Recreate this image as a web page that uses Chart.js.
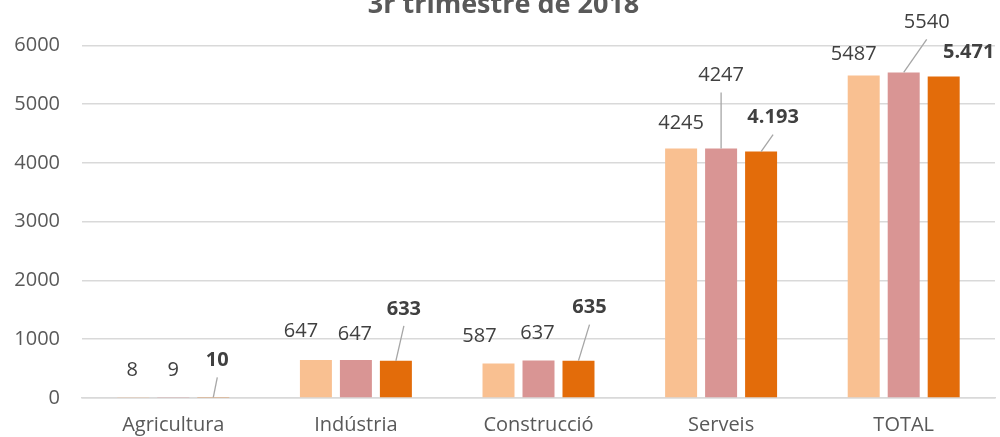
<!DOCTYPE html>
<html>
<head>
<meta charset="utf-8">
<script src="https://cdn.jsdelivr.net/npm/chart.js@4.4.1/dist/chart.umd.min.js"></script>
<style>
  html, body { margin: 0; padding: 0; background: #fff; overflow: hidden; }
  #wrap { position: relative; width: 1000px; height: 448px; margin-top: -11px; }
</style>
</head>
<body>
<div id="wrap"><canvas id="chart"></canvas></div>
<script>
// categories and values
const categories = ['Agricultura', 'Indústria', 'Construcció', 'Serveis', 'TOTAL'];
const serieA = [8, 647, 587, 4245, 5487];
const serieB = [9, 647, 637, 4247, 5540];
const serieC = [10, 633, 635, 4193, 5471];
const yTicks = [0, 1000, 2000, 3000, 4000, 5000, 6000];

// label offset from the bar top (dx, dy), third item = draw a leader line
const labelShift = [
    [[-1, -27], [-15, -29], [-19, -27], [0, -25], [-10, -21]],
    [[0, -27], [-1, -26], [-1, -27], [0, -73, 1], [23, -50, 1]],
    [[4, -37, 1], [8, -52, 1], [11, -53, 1], [12, -34, 1], [25, -24]]
];

const fmtBold = v => v >= 1000 ? v.toLocaleString('de-DE') : String(v);

const labelPlugin = {
    id: 'valueLabels',
    afterDatasetsDraw(chart) {
        const ctx = chart.ctx;
        ctx.save();
        chart.data.datasets.forEach((ds, i) => {
            const meta = chart.getDatasetMeta(i);
            meta.data.forEach((bar, j) => {
                const s = labelShift[i][j];
                const x = bar.x + s[0];
                const y = bar.y + s[1];
                const bold = i === 2;
                const txt = bold ? fmtBold(ds.data[j]) : String(ds.data[j]);
                ctx.font = (bold ? 'bold ' : '') + '20px "Open Sans", sans-serif';
                ctx.fillStyle = '#404040';
                ctx.textAlign = 'center';
                ctx.textBaseline = 'middle';
                ctx.fillText(txt, x, y);
                if (s[2]) {
                    ctx.strokeStyle = '#a6a6a6';
                    ctx.lineWidth = 1.3;
                    ctx.beginPath();
                    ctx.moveTo(x, y + 17);
                    ctx.lineTo(bar.x, bar.y);
                    ctx.stroke();
                }
            });
        });
        ctx.restore();
    }
};

new Chart(document.getElementById('chart'), {
    type: 'bar',
    data: {
        labels: categories,
        datasets: [
            { label: '1', data: serieA, backgroundColor: '#F9C091' },
            { label: '2', data: serieB, backgroundColor: '#D99594' },
            { label: '3', data: serieC, backgroundColor: '#E36C0A' }
        ]
    },
    options: {
        responsive: true,
        maintainAspectRatio: false,
        animation: false,
        layout: { padding: { left: 12, right: 5, bottom: 0 } },
        datasets: {
            bar: { barPercentage: 0.8, categoryPercentage: 0.657 }
        },
        plugins: {
            legend: { display: false },
            tooltip: { enabled: false },
            title: {
                display: true,
                text: '3r trimestre de 2018',
                color: '#595959',
                font: { family: '"Open Sans", sans-serif', size: 27, weight: 'bold' },
                padding: { top: 0, bottom: 24 }
            }
        },
        scales: {
            x: {
                grid: { display: false, drawTicks: false },
                border: { color: '#d9d9d9', width: 1.5 },
                ticks: {
                    color: '#595959',
                    font: { family: '"Open Sans", sans-serif', size: 20 },
                    padding: 15
                },
                afterFit: axis => { axis.height = 39; }
            },
            y: {
                min: 0,
                max: 6000,
                afterBuildTicks: axis => { axis.ticks = yTicks.map(v => ({ value: v })); },
                grid: { color: '#d9d9d9', lineWidth: 1.5, drawTicks: false },
                border: { display: false },
                ticks: {
                    color: '#595959',
                    font: { family: '"Open Sans", sans-serif', size: 20 },
                    padding: 22,
                    callback: v => String(v)
                },
                afterFit: axis => { axis.width = 70; }
            }
        }
    },
    plugins: [labelPlugin]
});
</script>
</body>
</html>
